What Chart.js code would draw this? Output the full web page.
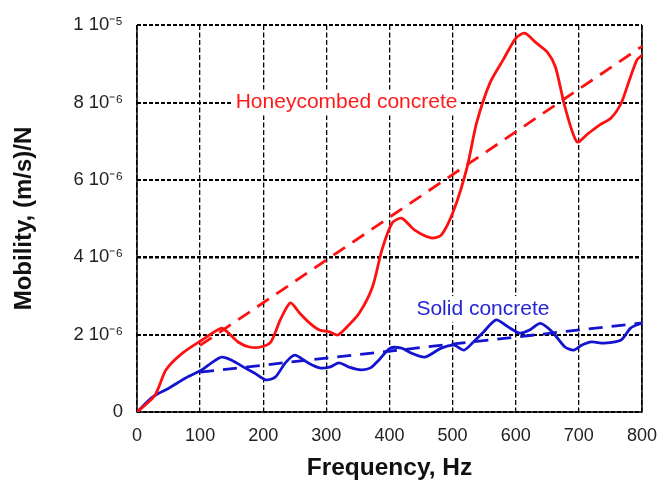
<!DOCTYPE html>
<html>
<head>
<meta charset="utf-8">
<script src="https://cdn.jsdelivr.net/npm/chart.js@4"></script>
<style>
  html, body { margin: 0; padding: 0; background: #fff; }
  #wrap { width: 670px; height: 487px; }
</style>
</head>
<body>
<div id="wrap"><canvas id="mobilityChart" width="670" height="487"></canvas></div>
<script>
// frequency (Hz) and mobility (x 1e-6 (m/s)/N)
const honeyFreq = [0, 28, 46, 72, 103, 134, 145, 160, 178, 196, 212, 227, 243, 258, 274, 289, 305, 318, 331, 352,
    373, 388, 404, 419, 440, 466, 482, 502, 523, 538, 559, 580, 600, 614, 631, 650, 663, 678, 697, 715,
    733, 751, 767, 779, 792, 800];
const honeyMob = [0, 0.42, 1.09, 1.52, 1.86, 2.17, 2.04, 1.81, 1.68, 1.68, 1.81, 2.38, 2.82, 2.55, 2.29, 2.12, 2.07, 1.99, 2.17, 2.55,
    3.23, 4.19, 4.88, 5.01, 4.70, 4.50, 4.57, 5.22, 6.33, 7.47, 8.50, 9.10, 9.66, 9.79, 9.56, 9.30, 8.91, 7.88, 6.98, 7.20,
    7.42, 7.60, 7.98, 8.53, 9.10, 9.22];

const solidFreq = [0, 25, 51, 77, 103, 118, 134, 150, 171, 186, 204, 219, 235, 250, 269, 289, 305, 320, 336, 355,
    370, 383, 401, 419, 435, 456, 482, 502, 518, 533, 549, 569, 588, 606, 622, 639, 658, 678, 692, 705,
    720, 740, 767, 782, 800];
const solidMob = [0, 0.39, 0.62, 0.88, 1.09, 1.27, 1.42, 1.34, 1.14, 1.01, 0.83, 0.90, 1.27, 1.47, 1.29, 1.14, 1.16, 1.27, 1.16, 1.09,
    1.14, 1.34, 1.65, 1.65, 1.52, 1.42, 1.65, 1.73, 1.60, 1.81, 2.07, 2.38, 2.20, 2.04, 2.12, 2.29, 2.07, 1.68, 1.60, 1.73,
    1.81, 1.78, 1.86, 2.17, 2.30];

// linear trend lines
const honeyTrendFreq = [100, 800];
const honeyTrendMob = [1.72, 9.45];
const solidTrendFreq = [100, 800];
const solidTrendMob = [1.03, 2.3];

const xTicks = [0, 100, 200, 300, 400, 500, 600, 700, 800];
const yTickLabels = { 0: '0', 2: '2 10⁻⁶', 4: '4 10⁻⁶', 6: '6 10⁻⁶', 8: '8 10⁻⁶', 10: '1 10⁻⁵' };

// curve names written on the plot: text, freq, mobility
const curveLabels = [
    { text: 'Honeycombed concrete', x: 332, y: 8, color: '#ff1a1a' },
    { text: 'Solid concrete', x: 548, y: 2.66, color: '#2424d8' }
];

const RED = '#ff1010';
const BLUE = '#1414d0';

function pts(xs, ys) {
    return xs.map((x, i) => ({ x: x, y: ys[i] }));
}

// white boxes with the curve names, then the frame
const annotate = {
    id: 'annotate',
    beforeDatasetsDraw(chart) {
        const { ctx, chartArea: a, scales } = chart;
        ctx.save();
        ctx.font = '21px "Liberation Sans", Arial, sans-serif';
        ctx.textAlign = 'center';
        ctx.textBaseline = 'middle';
        curveLabels.forEach(l => {
            const px = scales.x.getPixelForValue(l.x);
            const py = scales.y.getPixelForValue(l.y);
            const w = ctx.measureText(l.text).width;
            ctx.fillStyle = '#fff';
            ctx.fillRect(px - w / 2 - 3, py - 13, w + 6, 26);
            ctx.fillStyle = l.color;
            ctx.fillText(l.text, px, py);
        });
        // solid frame: left, bottom, right
        ctx.strokeStyle = '#000';
        ctx.lineWidth = 1.5;
        ctx.beginPath();
        ctx.moveTo(a.left, a.top);
        ctx.lineTo(a.left, a.bottom);
        ctx.lineTo(a.right, a.bottom);
        ctx.lineTo(a.right, a.top);
        ctx.stroke();
        ctx.restore();
    }
};

new Chart(document.getElementById('mobilityChart'), {
    type: 'line',
    data: {
        datasets: [
            { data: pts(honeyFreq, honeyMob), borderColor: RED, borderWidth: 2.8, tension: 0.25 },
            { data: pts(honeyTrendFreq, honeyTrendMob), borderColor: RED, borderWidth: 2.8, borderDash: [14, 9] },
            { data: pts(solidFreq, solidMob), borderColor: BLUE, borderWidth: 2.8, tension: 0.25 },
            { data: pts(solidTrendFreq, solidTrendMob), borderColor: BLUE, borderWidth: 2.8, borderDash: [14, 9] }
        ]
    },
    options: {
        responsive: false,
        animation: false,
        elements: { point: { radius: 0 } },
        layout: { padding: { left: 6, right: 18, top: 25, bottom: 0 } },
        plugins: { legend: { display: false }, tooltip: { enabled: false } },
        scales: {
            x: {
                type: 'linear',
                min: 0, max: 800,
                afterBuildTicks: s => { s.ticks = xTicks.map(v => ({ value: v })); },
                afterFit: s => { s.height = 75; },
                border: { display: false, dash: [5, 2.5] },
                grid: { color: '#000', lineWidth: 1.3, drawTicks: false },
                ticks: { color: '#222', padding: 13, font: { family: '"Liberation Sans", Arial', size: 18 } },
                title: {
                    display: true, text: 'Frequency, Hz', color: '#111', padding: { top: 2 },
                    font: { family: '"Liberation Sans", Arial', size: 24.5, weight: 'bold' }
                }
            },
            y: {
                min: 0, max: 10,
                afterBuildTicks: s => { s.ticks = Object.keys(yTickLabels).map(v => ({ value: +v })); },
                afterFit: s => { s.width = 131; },
                border: { display: false, dash: [4, 2] },
                grid: {
                    color: '#000', drawTicks: false,
                    lineWidth: c => (c.tick && c.tick.value === 4 ? 2.6 : 1.9)
                },
                ticks: {
                    color: '#222', padding: 14,
                    font: { family: '"Liberation Sans", Arial', size: 18.5 },
                    callback: v => yTickLabels[v]
                },
                title: {
                    display: true, text: 'Mobility, (m/s)/N', color: '#111', padding: { bottom: 4 },
                    font: { family: '"Liberation Sans", Arial', size: 24, weight: 'bold' }
                }
            }
        }
    },
    plugins: [annotate]
});
</script>
</body>
</html>
